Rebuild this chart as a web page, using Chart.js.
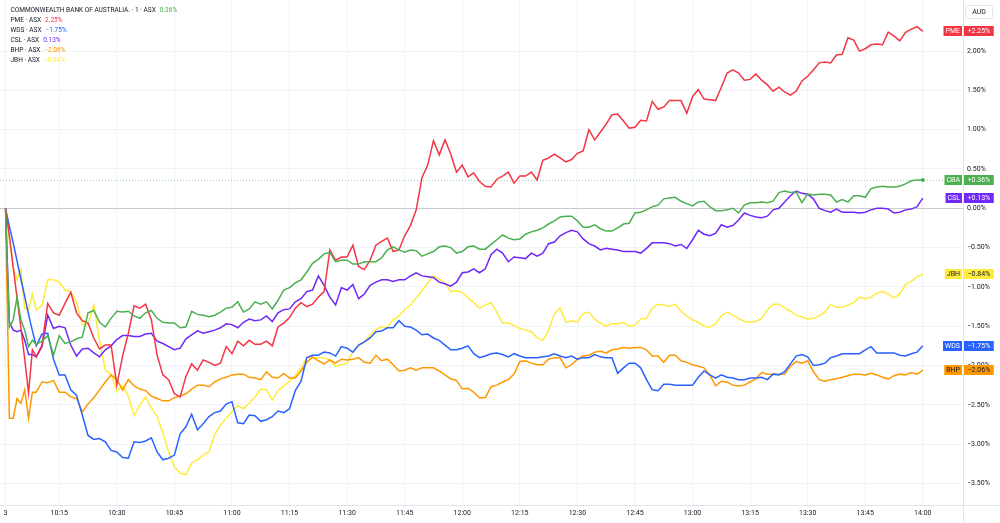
<!DOCTYPE html>
<html>
<head>
<meta charset="utf-8">
<script src="https://cdn.jsdelivr.net/npm/chart.js@4.4.0/dist/chart.umd.min.js"></script>
<style>
  html, body { margin: 0; padding: 0; background: #ffffff; }
  #wrap { width: 1000px; height: 523px; }
</style>
</head>
<body>
<div id="wrap"><canvas id="chart" width="1000" height="523"></canvas></div>
<script>
// minutes after 10:00 (session of the 3rd)
const minutes = [
  1, 2, 3, 4, 5, 6, 7, 8, 9,
  10.5, 12, 13.5, 15, 16.5, 18, 19.5, 21, 22.5, 24,
  25.5, 27, 28.5, 30, 31.5, 33, 34.5, 36, 37.5, 39,
  40.5, 42, 43.5, 45, 46.5, 48, 49.5, 51, 52.5, 54,
  55.5, 57, 58.5, 60, 61.5, 63, 64.5, 66, 67.5, 69,
  70.5, 72, 73.5, 75, 76.5, 78, 79.5, 81, 82.5, 84,
  85.5, 87, 88.5, 90, 91.5, 93, 94.5, 96, 97.5, 99,
  100.5, 102, 103.5, 105, 106.5, 108, 109.5, 111, 112.5, 114,
  115.5, 117, 118.5, 120, 121.5, 123, 124.5, 126, 127.5, 129,
  130.5, 132, 133.5, 135, 136.5, 138, 139.5, 141, 142.5, 144,
  145.5, 147, 148.5, 150, 151.5, 153, 154.5, 156, 157.5, 159,
  160.5, 162, 163.5, 165, 166.5, 168, 169.5, 171, 172.5, 174,
  175.5, 177, 178.5, 180, 181.5, 183, 184.5, 186, 187.5, 189,
  190.5, 192, 193.5, 195, 196.5, 198, 199.5, 201, 202.5, 204,
  205.5, 207, 208.5, 210, 211.5, 213, 214.5, 216, 217.5, 219,
  220.5, 222, 223.5, 225, 226.5, 228, 229.5, 231, 232.5, 234,
  235.5, 237, 238.5, 240
];

// % change vs. open
const cbaValues = [
  0, -1.51, -1.42, -1.13, -1.42, -1.55, -1.76, -1.68, -1.73,
  -1.69, -1.62, -1.87, -1.62, -1.72, -1.70, -1.66, -1.64, -1.33, -1.30,
  -1.45, -1.51, -1.40, -1.31, -1.32, -1.31, -1.37, -1.40, -1.33, -1.30,
  -1.40, -1.45, -1.46, -1.46, -1.52, -1.51, -1.31, -1.35, -1.36, -1.38,
  -1.36, -1.32, -1.27, -1.26, -1.19, -1.32, -1.28, -1.19, -1.22, -1.19,
  -1.28, -1.17, -1.04, -1.01, -0.95, -0.91, -0.81, -0.70, -0.65, -0.58,
  -0.56, -0.68, -0.66, -0.66, -0.71, -0.71, -0.68, -0.68, -0.68, -0.63,
  -0.53, -0.49, -0.53, -0.56, -0.53, -0.54, -0.61, -0.58, -0.55, -0.49,
  -0.48, -0.50, -0.57, -0.55, -0.49, -0.48, -0.52, -0.52, -0.46, -0.40,
  -0.34, -0.38, -0.40, -0.39, -0.33, -0.30, -0.28, -0.25, -0.20, -0.16,
  -0.11, -0.10, -0.10, -0.16, -0.24, -0.24, -0.21, -0.26, -0.29, -0.29,
  -0.25, -0.20, -0.19, -0.06, -0.05, -0.02, 0.02, 0.04, 0.12, 0.13,
  0.14, 0.09, 0.06, 0.03, 0.08, 0.09, 0.02, -0.03, -0.03, -0.02,
  0.00, -0.06, 0.04, 0.07, 0.07, 0.08, 0.07, 0.09, 0.20, 0.22,
  0.20, 0.21, 0.07, 0.18, 0.17, 0.18, 0.18, 0.17, 0.08, 0.11,
  0.08, 0.16, 0.16, 0.14, 0.25, 0.27, 0.28, 0.27, 0.27, 0.28,
  0.31, 0.35, 0.36, 0.36
];
const pmeValues = [
  0, -0.35, -0.75, -1.14, -1.52, -1.92, -2.35, -1.80, -1.89,
  -1.74, -1.21, -1.33, -1.36, -1.21, -1.07, -1.33, -1.43, -1.46, -1.65,
  -1.79, -1.74, -1.74, -2.25, -1.88, -1.59, -1.24, -1.27, -1.22, -1.42,
  -1.87, -2.12, -2.18, -2.36, -2.40, -2.14, -1.98, -2.06, -1.93, -1.96,
  -2.00, -1.97, -1.76, -1.85, -1.69, -1.75, -1.68, -1.73, -1.73, -1.69,
  -1.75, -1.51, -1.46, -1.39, -1.27, -1.20, -1.25, -1.22, -1.13, -1.06,
  -0.53, -0.66, -0.62, -0.62, -0.47, -0.74, -0.78, -0.66, -0.47, -0.42,
  -0.38, -0.55, -0.53, -0.35, -0.22, -0.02, 0.39, 0.55, 0.86, 0.68,
  0.87, 0.69, 0.46, 0.55, 0.40, 0.45, 0.34, 0.28, 0.27, 0.37,
  0.41, 0.46, 0.32, 0.41, 0.41, 0.46, 0.36, 0.61, 0.64, 0.69,
  0.64, 0.59, 0.62, 0.70, 0.73, 1.00, 0.87, 0.97, 1.07, 1.19,
  1.20, 1.11, 1.02, 1.03, 1.12, 1.11, 1.36, 1.26, 1.29, 1.37,
  1.37, 1.37, 1.21, 1.42, 1.51, 1.39, 1.38, 1.37, 1.54, 1.72,
  1.76, 1.72, 1.63, 1.64, 1.71, 1.63, 1.57, 1.49, 1.54, 1.48,
  1.44, 1.49, 1.62, 1.68, 1.76, 1.85, 1.86, 1.85, 1.95, 1.96,
  2.17, 2.14, 2.00, 2.03, 2.08, 2.09, 2.08, 2.24, 2.19, 2.13,
  2.24, 2.28, 2.31, 2.25
];
const wdsValues = [
  0, -0.23, -0.44, -0.67, -0.90, -1.12, -1.35, -1.56, -1.75,
  -1.60, -1.59, -1.92, -2.12, -2.12, -2.31, -2.38, -2.63, -2.89, -2.94,
  -2.93, -2.97, -3.08, -3.10, -3.17, -3.18, -2.97, -2.98, -2.96, -2.92,
  -3.10, -3.20, -3.18, -3.14, -2.87, -2.78, -2.62, -2.82, -2.74, -2.65,
  -2.60, -2.58, -2.49, -2.46, -2.73, -2.74, -2.63, -2.64, -2.71, -2.69,
  -2.65, -2.58, -2.60, -2.55, -2.32, -2.20, -1.90, -1.87, -1.87, -1.83,
  -1.84, -1.88, -1.76, -1.78, -1.83, -1.74, -1.70, -1.65, -1.57, -1.56,
  -1.52, -1.52, -1.43, -1.50, -1.51, -1.55, -1.61, -1.60, -1.65, -1.68,
  -1.74, -1.80, -1.80, -1.78, -1.75, -1.85, -1.90, -1.88, -1.85, -1.84,
  -1.86, -1.89, -1.85, -1.88, -1.90, -1.90, -1.90, -1.89, -1.88, -1.85,
  -1.88, -1.90, -1.88, -1.92, -1.90, -1.90, -1.86, -1.89, -1.90, -1.90,
  -2.10, -2.03, -1.97, -1.97, -2.03, -2.18, -2.31, -2.32, -2.24, -2.24,
  -2.25, -2.25, -2.25, -2.25, -2.15, -2.07, -2.12, -2.16, -2.12, -2.15,
  -2.16, -2.18, -2.18, -2.16, -2.16, -2.15, -2.18, -2.11, -2.12, -2.08,
  -1.98, -1.88, -1.86, -1.89, -2.00, -1.99, -1.97, -1.90, -1.88, -1.85,
  -1.85, -1.85, -1.85, -1.80, -1.76, -1.84, -1.84, -1.84, -1.84, -1.87,
  -1.88, -1.85, -1.83, -1.75
];
const cslValues = [
  0, -1.45, -1.55, -1.57, -1.55, -1.68, -1.86, -1.86, -1.89,
  -1.76, -1.36, -1.53, -1.50, -1.52, -1.74, -1.88, -1.79, -1.78, -1.84,
  -1.89, -1.80, -1.75, -1.67, -1.62, -1.62, -1.63, -1.63, -1.60, -1.59,
  -1.69, -1.72, -1.76, -1.80, -1.78, -1.66, -1.61, -1.56, -1.59, -1.57,
  -1.55, -1.52, -1.47, -1.48, -1.52, -1.45, -1.41, -1.43, -1.42, -1.37,
  -1.44, -1.33, -1.29, -1.28, -1.19, -1.15, -1.06, -1.04, -0.86, -0.98,
  -1.13, -1.23, -1.01, -1.04, -0.97, -1.15, -1.09, -0.98, -0.94, -0.91,
  -0.91, -0.93, -0.91, -0.91, -0.86, -0.82, -0.86, -0.87, -0.88, -0.94,
  -0.96, -0.99, -0.94, -0.82, -0.81, -0.77, -0.82, -0.77, -0.59, -0.52,
  -0.57, -0.68, -0.62, -0.63, -0.64, -0.57, -0.61, -0.57, -0.45, -0.43,
  -0.35, -0.31, -0.28, -0.30, -0.39, -0.45, -0.48, -0.53, -0.51, -0.52,
  -0.53, -0.55, -0.55, -0.55, -0.57, -0.51, -0.44, -0.44, -0.44, -0.45,
  -0.48, -0.46, -0.51, -0.40, -0.28, -0.33, -0.35, -0.32, -0.21, -0.24,
  -0.22, -0.15, -0.06, -0.09, -0.11, -0.12, -0.10, -0.02, 0.00, 0.08,
  0.16, 0.22, 0.19, 0.18, 0.12, 0.00, -0.03, -0.05, -0.01, -0.05,
  -0.05, -0.05, -0.06, -0.05, -0.02, 0.00, 0.00, -0.01, -0.06, -0.05,
  -0.02, -0.01, 0.02, 0.13
];
const bhpValues = [
  0, -2.67, -2.67, -2.42, -2.48, -2.31, -2.67, -2.34, -2.34,
  -2.21, -2.22, -2.19, -2.34, -2.34, -2.40, -2.42, -2.59, -2.49, -2.41,
  -2.31, -2.21, -2.12, -2.18, -2.31, -2.18, -2.26, -2.30, -2.32, -2.39,
  -2.42, -2.45, -2.45, -2.41, -2.39, -2.36, -2.30, -2.25, -2.25, -2.27,
  -2.21, -2.17, -2.15, -2.12, -2.11, -2.11, -2.15, -2.16, -2.18, -2.08,
  -2.15, -2.16, -2.10, -2.16, -2.16, -2.07, -1.96, -1.89, -1.94, -1.98,
  -1.93, -1.97, -1.92, -1.93, -1.92, -1.90, -1.96, -1.97, -1.87, -1.94,
  -1.92, -1.99, -2.07, -2.06, -2.03, -2.06, -2.03, -2.03, -2.03, -2.07,
  -2.12, -2.17, -2.19, -2.30, -2.29, -2.34, -2.41, -2.41, -2.27, -2.25,
  -2.21, -2.18, -2.11, -1.95, -1.94, -1.97, -1.99, -1.99, -1.92, -1.90,
  -1.90, -2.03, -1.99, -1.92, -1.88, -1.87, -1.83, -1.82, -1.84, -1.80,
  -1.79, -1.77, -1.78, -1.77, -1.77, -1.80, -1.88, -1.88, -1.96, -1.87,
  -1.87, -1.94, -1.96, -1.99, -2.01, -2.03, -2.12, -2.26, -2.20, -2.21,
  -2.25, -2.26, -2.25, -2.21, -2.17, -2.09, -2.11, -2.11, -2.11, -2.11,
  -2.01, -1.95, -1.97, -1.94, -2.08, -2.18, -2.20, -2.18, -2.17, -2.15,
  -2.13, -2.11, -2.11, -2.12, -2.10, -2.12, -2.15, -2.17, -2.13, -2.11,
  -2.12, -2.09, -2.11, -2.06
];
const jbhValues = [
  0, -0.40, -0.76, -0.91, -0.78, -1.27, -1.29, -1.09, -1.29,
  -1.24, -0.91, -0.91, -0.94, -1.04, -1.06, -1.19, -1.48, -1.48, -1.23,
  -1.69, -2.06, -2.11, -2.32, -2.26, -2.39, -2.64, -2.50, -2.40, -2.54,
  -2.65, -2.86, -3.10, -3.29, -3.37, -3.39, -3.24, -3.20, -3.14, -3.10,
  -2.88, -2.76, -2.67, -2.59, -2.51, -2.55, -2.48, -2.40, -2.30, -2.31,
  -2.44, -2.32, -2.26, -2.20, -2.13, -2.03, -1.90, -1.90, -1.90, -1.90,
  -1.93, -2.01, -1.99, -1.97, -1.82, -1.75, -1.70, -1.61, -1.54, -1.51,
  -1.51, -1.42, -1.37, -1.29, -1.23, -1.14, -1.05, -0.95, -0.86, -0.90,
  -0.95, -1.06, -1.05, -1.07, -1.14, -1.20, -1.27, -1.23, -1.20, -1.32,
  -1.46, -1.46, -1.49, -1.53, -1.55, -1.57, -1.65, -1.68, -1.55, -1.34,
  -1.27, -1.45, -1.43, -1.45, -1.34, -1.32, -1.41, -1.46, -1.50, -1.47,
  -1.47, -1.45, -1.50, -1.49, -1.41, -1.40, -1.27, -1.22, -1.23, -1.25,
  -1.22, -1.31, -1.37, -1.42, -1.45, -1.50, -1.51, -1.47, -1.37, -1.32,
  -1.36, -1.40, -1.44, -1.45, -1.44, -1.40, -1.29, -1.22, -1.22, -1.27,
  -1.31, -1.36, -1.38, -1.41, -1.40, -1.37, -1.32, -1.22, -1.26, -1.26,
  -1.23, -1.20, -1.13, -1.15, -1.13, -1.08, -1.06, -1.09, -1.14, -1.09,
  -0.97, -0.93, -0.87, -0.84
];

const tickerNames = ['CBA', 'PME', 'WDS', 'CSL', 'BHP', 'JBH'];
const legendNames = [
  'COMMONWEALTH BANK OF AUSTRALIA. · 1 · ASX',
  'PME · ASX', 'WDS · ASX', 'CSL · ASX', 'BHP · ASX', 'JBH · ASX'
];
const seriesValues = [cbaValues, pmeValues, wdsValues, cslValues, bhpValues, jbhValues];
const seriesColors = ['#4caf50', '#f23645', '#2962ff', '#7127f7', '#ff9800', '#ffeb3b'];
const tagTextColors = ['#ffffff', '#ffffff', '#ffffff', '#ffffff', '#131722', '#131722'];

const xTickMinutes = [1, 15, 30, 45, 60, 75, 90, 105, 120, 135, 150, 165, 180, 195, 210, 225, 240];
const xTickLabels = ['3', '10:15', '10:30', '10:45', '11:00', '11:15', '11:30', '11:45', '12:00',
  '12:15', '12:30', '12:45', '13:00', '13:15', '13:30', '13:45', '14:00'];
const yTickValues = [2, 1.5, 1, 0.5, 0, -0.5, -1, -1.5, -2, -2.5, -3, -3.5];

const FONT = 'Roboto, "Noto Sans", sans-serif';
const TEXT = '#131722';
const LINE = '#e0e3eb';

function pct(v, plus) {
  const s = Math.abs(v).toFixed(2) + '%';
  if (v < 0) return '\u2212' + s;
  return (plus ? '+' : '') + s;
}

const overlay = {
  id: 'overlay',
  beforeDatasetsDraw(chart) {
    const { ctx, chartArea: a, scales: { y } } = chart;
    ctx.save();
    // zero line
    const y0 = Math.round(y.getPixelForValue(0)) + 0.5;
    ctx.strokeStyle = '#c9cbd1';
    ctx.lineWidth = 1;
    ctx.beginPath(); ctx.moveTo(a.left, y0); ctx.lineTo(a.right, y0); ctx.stroke();
    // main series last price line
    const yc = Math.round(y.getPixelForValue(cbaValues[cbaValues.length - 1])) + 0.5;
    ctx.strokeStyle = 'rgba(76,175,80,0.55)';
    ctx.setLineDash([1, 2]);
    ctx.beginPath(); ctx.moveTo(a.left, yc); ctx.lineTo(a.right, yc); ctx.stroke();
    ctx.restore();
  },
  afterDraw(chart) {
    const { ctx, chartArea: a, scales: { x, y } } = chart;
    ctx.save();
    // frame lines
    ctx.strokeStyle = LINE;
    ctx.lineWidth = 1;
    ctx.beginPath();
    ctx.moveTo(a.right + 0.5, 0); ctx.lineTo(a.right + 0.5, chart.height);
    ctx.moveTo(0, a.bottom + 0.5); ctx.lineTo(chart.width, a.bottom + 0.5);
    ctx.stroke();

    // last point dot on main series
    const last = minutes.length - 1;
    ctx.fillStyle = seriesColors[0];
    ctx.beginPath();
    ctx.arc(x.getPixelForValue(minutes[last]), y.getPixelForValue(cbaValues[last]), 2, 0, Math.PI * 2);
    ctx.fill();

    // price tags on the right axis
    ctx.font = '7px ' + FONT;
    ctx.textBaseline = 'middle';
    seriesValues.forEach((vals, i) => {
      const v = vals[vals.length - 1];
      const py = Math.round(y.getPixelForValue(v));
      const vt = pct(v, true);
      const vw = ctx.measureText(vt).width;
      const nw = ctx.measureText(tickerNames[i]).width;
      ctx.fillStyle = seriesColors[i];
      ctx.fillRect(a.right + 1, py - 5, vw + 7, 10);
      ctx.fillRect(a.right - nw - 5, py - 5, nw + 4, 10);
      ctx.fillStyle = tagTextColors[i];
      ctx.textAlign = 'left';
      ctx.fillText(vt, a.right + 4.5, py + 0.5);
      ctx.fillText(tickerNames[i], a.right - nw - 3, py + 0.5);
    });

    // currency box
    ctx.fillStyle = '#ffffff';
    ctx.strokeStyle = LINE;
    ctx.beginPath();
    ctx.roundRect(965.5, 5.5, 27, 13, 2);
    ctx.fill(); ctx.stroke();
    ctx.fillStyle = TEXT;
    ctx.textAlign = 'center';
    ctx.fillText('AUD', 979, 12.5);

    // legend
    ctx.font = '6.5px ' + FONT;
    ctx.textAlign = 'left';
    legendNames.forEach((name, i) => {
      const ly = 10.7 + i * 9.9;
      ctx.fillStyle = TEXT;
      ctx.fillText(name, 10.5, ly);
      const w = ctx.measureText(name).width;
      const vals = seriesValues[i];
      ctx.fillStyle = seriesColors[i];
      ctx.fillText(pct(vals[vals.length - 1], false), 10.5 + w + 4, ly);
    });
    ctx.restore();
  }
};

const ctx = document.getElementById('chart').getContext('2d');
new Chart(ctx, {
  type: 'line',
  data: {
    datasets: seriesValues.map((vals, i) => ({
      label: tickerNames[i],
      data: minutes.map((m, j) => ({ x: m, y: vals[j] })),
      borderColor: seriesColors[i],
      borderWidth: 1.5,
      pointRadius: 0,
      tension: 0,
      fill: false
    }))
  },
  options: {
    responsive: false,
    animation: false,
    devicePixelRatio: 1,
    layout: { padding: 0 },
    plugins: { legend: { display: false }, tooltip: { enabled: false } },
    scales: {
      x: {
        type: 'linear',
        position: 'bottom',
        min: -0.44,
        max: 250.47,
        afterBuildTicks: axis => { axis.ticks = xTickMinutes.map(v => ({ value: v })); },
        afterFit: axis => { axis.height = 18; axis.paddingLeft = 0; axis.paddingRight = 0; },
        ticks: {
          autoSkip: false, maxRotation: 0, padding: 4,
          color: TEXT, font: { family: FONT, size: 7 },
          callback: (v, i) => xTickLabels[i]
        },
        grid: { color: '#f0f3fa', drawTicks: false },
        border: { display: false }
      },
      y: {
        type: 'linear',
        position: 'right',
        min: -3.775,
        max: 2.65,
        afterBuildTicks: axis => { axis.ticks = yTickValues.map(v => ({ value: v })); },
        afterFit: axis => { axis.width = 37; axis.paddingTop = 0; axis.paddingBottom = 0; },
        ticks: {
          padding: 4,
          color: TEXT, font: { family: FONT, size: 7 },
          callback: v => pct(v, false)
        },
        grid: { color: '#f0f3fa', drawTicks: false },
        border: { display: false }
      }
    }
  },
  plugins: [overlay]
});
</script>
</body>
</html>
